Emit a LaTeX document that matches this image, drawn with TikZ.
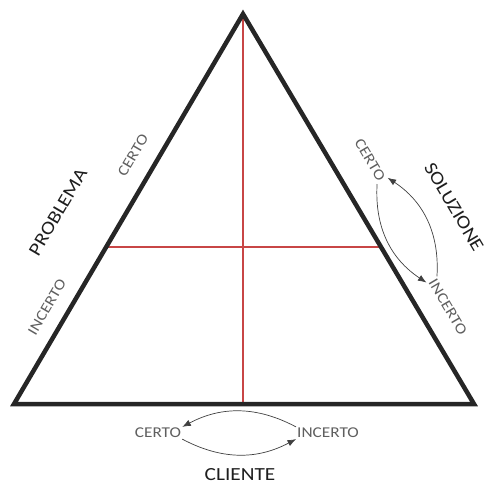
\documentclass[tikz,border=0pt]{standalone}
\usepackage{fontspec}
\usepackage{graphicx}
\setmainfont{Carlito}
\usetikzlibrary{arrows.meta,calc}
\definecolor{redl}{RGB}{200,70,70}
\definecolor{graytxt}{RGB}{95,95,95}
\definecolor{darktxt}{RGB}{30,30,30}
\newcommand\stretchtxt[1]{\scalebox{1.15}[1]{#1}}
\begin{document}
\begin{tikzpicture}[x=1pt,y=-1pt,
  edge/.style={line width=4.5pt, draw=black!85},
  axis/.style={line width=1.3pt, draw=redl},
  lab/.style={text=graytxt, font=\fontsize{15}{15}\selectfont, inner sep=1pt},
  title/.style={text=darktxt, font=\fontsize{18.5}{18.5}\selectfont, inner sep=1pt},
  flow/.style={draw=black!75, line width=0.7pt, -{Latex[length=8.5pt,width=6.5pt]}}]
\useasboundingbox (0,0) rectangle (485,486);
\coordinate (A) at (243,14);
\coordinate (L) at (14,404);
\coordinate (R) at (474,404);
\coordinate (B) at (243,404);
\coordinate (HL) at ($(A)!0.5974!(L)$);
\coordinate (HR) at ($(A)!0.5974!(R)$);
\draw[axis] (A) -- (B);
\draw[axis] (HL) -- (HR);
\draw[edge] (A) -- (L) -- (R) -- cycle;
% left side
\node[title, rotate=59.6] (prob) at (58,212) {\stretchtxt{PROBLEMA}};
\node[lab, rotate=59.6] (pc) at (133,155) {\stretchtxt{CERTO}};
\node[lab, rotate=59.6] (pi) at (47,307) {\stretchtxt{INCERTO}};
% right side
\node[title, rotate=-59.4] (sol) at (454,207) {\stretchtxt{SOLUZIONE}};
\node[lab, rotate=-59.4] (sc) at (370,160) {\stretchtxt{CERTO}};
\node[lab, rotate=-59.4] (si) at (448,307) {\stretchtxt{INCERTO}};
% bottom
\node[lab] (cc) at (158,433) {\stretchtxt{CERTO}};
\node[lab] (ci) at (328,433) {\stretchtxt{INCERTO}};
\node[title] (cl) at (240,475) {\stretchtxt{CLIENTE}};
% arrows
\draw[flow] (sc.south east) to[bend right=30] (si.south west);
\draw[flow] (si.north west) to[bend right=30] (sc.north east);
\draw[flow] (ci.north west) to[bend right=28] (cc.north east);
\draw[flow] (cc.south east) to[bend right=28] (ci.south west);
\end{tikzpicture}
\end{document}
